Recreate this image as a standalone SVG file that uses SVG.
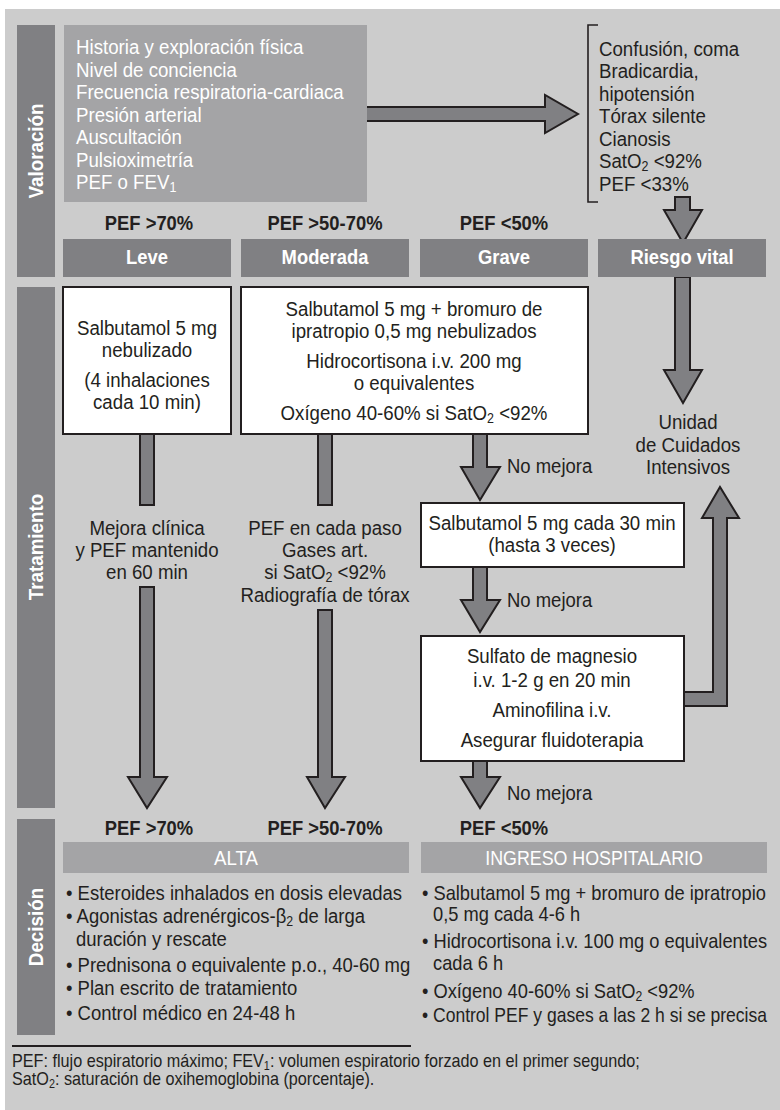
<svg xmlns="http://www.w3.org/2000/svg" width="780" height="1110" viewBox="0 0 780 1110">
<style>
text{font-family:"Liberation Sans",Arial,sans-serif;font-size:21px;fill:#231f20}
.w{fill:#ffffff}
.b{font-weight:bold;font-size:20px}
.c{text-anchor:middle}
.bar{fill:#808083}
.hdr{fill:#808083}
.lt{fill:#a4a4a6}
.box{fill:#ffffff;stroke:#231f20;stroke-width:2}
.arr{fill:#808083;stroke:#231f20;stroke-width:2;stroke-linejoin:miter}
.ft{font-size:18px}
</style>
<rect x="5" y="9" width="775" height="1101" fill="#cccccc"/>

<g id="side-labels">
<rect class="bar" x="17" y="25" width="38" height="252"/>
<text class="w b c" transform="translate(43,151) rotate(-90) scale(.94,1)">Valoración</text>
<rect class="bar" x="17" y="287" width="38" height="521"/>
<text class="w b c" transform="translate(43,547) rotate(-90) scale(.94,1)">Tratamiento</text>
<rect class="bar" x="17" y="819" width="38" height="216"/>
<text class="w b c" transform="translate(43,927) rotate(-90) scale(.94,1)">Decisión</text>
</g>

<g id="connectors">
<polygon class="arr" points="366,107 545,107 545,95 578,114 545,133 545,121 366,121"/>
<polygon class="arr" points="675,197 690,197 690,210 702,210 683,243 664,210 675,210"/>
<polygon class="arr" points="675,277 690,277 690,370 702,370 683,403 664,370 675,370"/>
<rect class="arr" x="140" y="434" width="14" height="71"/>
<rect class="arr" x="318" y="434" width="14" height="71"/>
<polygon class="arr" points="140,587 154,587 154,777 167,777 147,808 128,777 140,777"/>
<polygon class="arr" points="318,610 332,610 332,777 345,777 325,808 307,777 318,777"/>
<polygon class="arr" points="473,434 487,434 487,467 500,467 480,500 461,467 473,467"/>
<polygon class="arr" points="473,567 487,567 487,600 500,600 480,632 461,600 473,600"/>
<polygon class="arr" points="473,761 487,761 487,777 500,777 480,808 461,777 473,777"/>
<polygon class="arr" points="683,692 713,692 713,518 702,518 720,487 739,518 727,518 727,706 683,706"/>
<text transform="translate(507,473) scale(.88,1)">No mejora</text>
<text transform="translate(507,607) scale(.88,1)">No mejora</text>
<text transform="translate(507,800) scale(.88,1)">No mejora</text>
</g>

<g id="valoracion">
<rect class="lt" x="64" y="25" width="303" height="177"/>
<text class="w" transform="translate(76,54) scale(.89,1)">Historia y exploración física</text>
<text class="w" transform="translate(76,76.5) scale(.89,1)">Nivel de conciencia</text>
<text class="w" transform="translate(76,99) scale(.89,1)">Frecuencia respiratoria-cardiaca</text>
<text class="w" transform="translate(76,121.5) scale(.89,1)">Presión arterial</text>
<text class="w" transform="translate(76,144) scale(.89,1)">Auscultación</text>
<text class="w" transform="translate(76,166.5) scale(.89,1)">Pulsioximetría</text>
<text class="w" transform="translate(76,189) scale(.89,1)">PEF o FEV<tspan font-size="14" dy="3">1</tspan></text>
</g>

<g id="riesgo-signos">
<path d="M598,25 H588 V202 H598" fill="none" stroke="#231f20" stroke-width="1.6"/>
<text transform="translate(599,56) scale(.89,1)">Confusión, coma</text>
<text transform="translate(599,78) scale(.89,1)">Bradicardia,</text>
<text transform="translate(599,100.5) scale(.89,1)">hipotensión</text>
<text transform="translate(599,123) scale(.89,1)">Tórax silente</text>
<text transform="translate(599,145.5) scale(.89,1)">Cianosis</text>
<text transform="translate(599,168) scale(.89,1)">SatO<tspan font-size="14" dy="3">2</tspan><tspan dy="-3"> &lt;92%</tspan></text>
<text transform="translate(599,190.5) scale(.89,1)">PEF &lt;33%</text>
</g>

<g id="severidad">
<text class="b c" transform="translate(149,230) scale(.92,1)">PEF &gt;70%</text>
<text class="b c" transform="translate(325,230) scale(.92,1)">PEF &gt;50-70%</text>
<text class="b c" transform="translate(504,230) scale(.92,1)">PEF &lt;50%</text>
<rect class="hdr" x="63" y="239" width="168" height="38"/>
<text class="w b c" transform="translate(147,264) scale(.92,1)">Leve</text>
<rect class="hdr" x="241" y="239" width="168" height="38"/>
<text class="w b c" transform="translate(325,264) scale(.92,1)">Moderada</text>
<rect class="hdr" x="420" y="239" width="168" height="38"/>
<text class="w b c" transform="translate(504,264) scale(.92,1)">Grave</text>
<rect class="hdr" x="598" y="239" width="168" height="38"/>
<text class="w b c" transform="translate(682,264) scale(.92,1)">Riesgo vital</text>
</g>

<g id="tratamiento-leve">
<rect class="box" x="63" y="287" width="168" height="147"/>
<text class="c" transform="translate(147,335) scale(.89,1)">Salbutamol 5 mg</text>
<text class="c" transform="translate(147,357) scale(.89,1)">nebulizado</text>
<text class="c" transform="translate(147,387) scale(.89,1)">(4 inhalaciones</text>
<text class="c" transform="translate(147,409) scale(.89,1)">cada 10 min)</text>
</g>

<g id="tratamiento-moderada-grave">
<rect class="box" x="241" y="287" width="347" height="147"/>
<text class="c" transform="translate(414,316) scale(.89,1)">Salbutamol 5 mg + bromuro de</text>
<text class="c" transform="translate(414,338) scale(.89,1)">ipratropio 0,5 mg nebulizados</text>
<text class="c" transform="translate(414,368) scale(.89,1)">Hidrocortisona i.v. 200 mg</text>
<text class="c" transform="translate(414,390) scale(.89,1)">o equivalentes</text>
<text class="c" transform="translate(414,420) scale(.89,1)">Oxígeno 40-60% si SatO<tspan font-size="14" dy="3">2</tspan><tspan dy="-3"> &lt;92%</tspan></text>
</g>

<g id="nota-leve">
<text class="c" transform="translate(147,535) scale(.89,1)">Mejora clínica</text>
<text class="c" transform="translate(147,557) scale(.89,1)">y PEF mantenido</text>
<text class="c" transform="translate(147,579) scale(.89,1)">en 60 min</text>
</g>

<g id="nota-moderada">
<text class="c" transform="translate(325,535) scale(.89,1)">PEF en cada paso</text>
<text class="c" transform="translate(325,557) scale(.89,1)">Gases art.</text>
<text class="c" transform="translate(325,579) scale(.89,1)">si SatO<tspan font-size="14" dy="3">2</tspan><tspan dy="-3"> &lt;92%</tspan></text>
<text class="c" transform="translate(325,602) scale(.89,1)">Radiografía de tórax</text>
</g>

<g id="uci">
<text class="c" transform="translate(688,429) scale(.89,1)">Unidad</text>
<text class="c" transform="translate(688,452) scale(.89,1)">de Cuidados</text>
<text class="c" transform="translate(688,474) scale(.89,1)">Intensivos</text>
</g>

<g id="salbutamol-30">
<rect class="box" x="421" y="503" width="263" height="64"/>
<text class="c" transform="translate(552,530) scale(.89,1)">Salbutamol 5 mg cada 30 min</text>
<text class="c" transform="translate(552,552) scale(.89,1)">(hasta 3 veces)</text>
</g>

<g id="sulfato">
<rect class="box" x="421" y="636" width="263" height="125"/>
<text class="c" transform="translate(552,663) scale(.89,1)">Sulfato de magnesio</text>
<text class="c" transform="translate(552,687) scale(.89,1)">i.v. 1-2 g en 20 min</text>
<text class="c" transform="translate(552,717) scale(.89,1)">Aminofilina i.v.</text>
<text class="c" transform="translate(552,747) scale(.89,1)">Asegurar fluidoterapia</text>
</g>

<g id="decision-pef">
<text class="b c" transform="translate(149,835) scale(.92,1)">PEF &gt;70%</text>
<text class="b c" transform="translate(325,835) scale(.92,1)">PEF &gt;50-70%</text>
<text class="b c" transform="translate(504,835) scale(.92,1)">PEF &lt;50%</text>
</g>

<g id="alta">
<rect class="lt" x="63" y="842" width="346" height="31"/>
<text class="w c" transform="translate(236,865) scale(.89,1)">ALTA</text>
<text transform="translate(66,900) scale(.88,1)">• Esteroides inhalados en dosis elevadas</text>
<text transform="translate(66,923) scale(.88,1)">• Agonistas adrenérgicos-β<tspan font-size="14" dy="3">2</tspan><tspan dy="-3"> de larga</tspan></text>
<text transform="translate(76,946) scale(.88,1)">duración y rescate</text>
<text transform="translate(66,972) scale(.88,1)">• Prednisona o equivalente p.o., 40-60 mg</text>
<text transform="translate(66,995) scale(.88,1)">• Plan escrito de tratamiento</text>
<text transform="translate(66,1020) scale(.88,1)">• Control médico en 24-48 h</text>
</g>

<g id="ingreso">
<rect class="lt" x="421" y="842" width="346" height="31"/>
<text class="w c" transform="translate(594,865) scale(.85,1)">INGRESO HOSPITALARIO</text>
<text transform="translate(422,900) scale(.87,1)">• Salbutamol 5 mg + bromuro de ipratropio</text>
<text transform="translate(433,921) scale(.87,1)">0,5 mg cada 4-6 h</text>
<text transform="translate(422,948) scale(.87,1)">• Hidrocortisona i.v. 100 mg o equivalentes</text>
<text transform="translate(433,970) scale(.87,1)">cada 6 h</text>
<text transform="translate(422,998) scale(.87,1)">• Oxígeno 40-60% si SatO<tspan font-size="14" dy="3">2</tspan><tspan dy="-3"> &lt;92%</tspan></text>
<text transform="translate(422,1022) scale(.835,1)">• Control PEF y gases a las 2 h si se precisa</text>
</g>

<g id="footer">
<line x1="12" y1="1046" x2="411" y2="1046" stroke="#231f20" stroke-width="2"/>
<text class="ft" transform="translate(12,1067) scale(.9,1)">PEF: flujo espiratorio máximo; FEV<tspan font-size="12" dy="3">1</tspan><tspan dy="-3">: volumen espiratorio forzado en el primer segundo;</tspan></text>
<text class="ft" transform="translate(12,1085) scale(.9,1)">SatO<tspan font-size="12" dy="3">2</tspan><tspan dy="-3">: saturación de oxihemoglobina (porcentaje).</tspan></text>
</g>
</svg>
